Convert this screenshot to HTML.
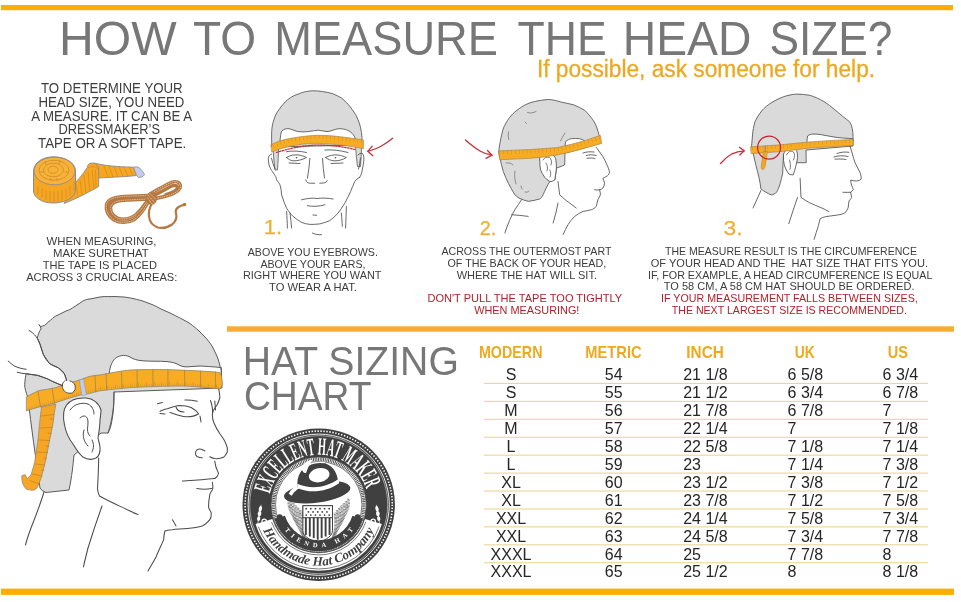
<!DOCTYPE html>
<html><head><meta charset="utf-8"><title>How to measure the head size</title>
<style>
html,body{margin:0;padding:0;background:#fff;}
body{width:961px;height:602px;overflow:hidden;}
svg{display:block;}
svg{font-family:'Liberation Sans', Arial, sans-serif;}
</style></head><body>
<svg width="961" height="602" viewBox="0 0 961 602">
<rect x="0" y="0" width="961" height="602" fill="#fff"/>
<rect x="1" y="5" width="952" height="5.2" fill="#FAAF05"/>
<rect x="227" y="326.3" width="727" height="5.4" fill="#F6AD31"/>
<rect x="1" y="588.6" width="953" height="6.3" fill="#FAAF05"/>
<g id="bighead" stroke-linejoin="round" stroke-linecap="round">
 <!-- hair -->
 <path fill="#DADADA" stroke="#5a5a5a" stroke-width="1" d="M37.4,338 C38,334 39.5,331 41.1,329 L40.4,326.7 C42,326 43.5,325.8 44.8,325.2 C47,323 49,321.5 50.8,320 C53,318 55,316 58,315 L66,311 C70,310 72,308 74,307 L80,303 C84,300 87,299 90,299 L100,297 C106,296 110,297 114,296.5 L124,297 C132,298 137,299.5 142,300.8 L152,304.5 C156,306 158,307.5 161,309 L170,313 C176,316 179,317.5 182,319 L190,323.5 C194,326.5 196,328.5 198,330 L204,336 C208,340 210,343 212,346 L216,354 C218,358 219,362 220,366 L221,372 L222,388 L114,392 C114,400 114,410 112,420 C111,426 110,430 108,433 L101,433 L74,455 C73,465 72,476 69,490 L46,492.5 C43,491 41,490 40,488 C36,460 31,425 28,398 C26,392 24.5,388 24.7,384.3 C25,380 25.5,376 26.2,373.8 L37.4,375.3 L47.8,379 L52.3,381.3 L62.8,385.8 L66.5,379.8 L64.3,373.8 L58.3,367.8 L49.3,363.3 L43.3,354.4 L40.4,345.4 Z"/>
 <!-- forehead patch -->
 <path fill="#fff" stroke="#5a5a5a" stroke-width="1" d="M109,376 C109.5,368 111.5,362 115,358.5 C119,355.5 124,354.5 129,356.5 C133,359 137,360.5 143,360.8 C151,361.5 159,361 166,361.5 C172,362 176,363 180,365.5 C184,367.5 188,366.8 192,366.5 L200,366 C206,366.3 213,366.8 221,367.5 L221.5,376 Z"/>
 <path fill="none" stroke="#5a5a5a" stroke-width="1" d="M221,367.5 C221.3,369.5 221.5,371 221.5,372.5"/>
 <!-- sideburn shading line -->
 <path fill="none" stroke="#5a5a5a" stroke-width="1" d="M114,392 C114,405 113,418 108,433"/>
 <!-- face -->
 <g fill="none" stroke="#4a4a4a" stroke-width="1.05">
  <path d="M218.5,388 C219.5,393 220,397 219.8,398 C219,401 218,403 217,405 C214,409 212,412 212.3,415 C212.5,419 213,421 214,423 C216,428 218,431 220,434 C223,438 225,441 226,444 C227.5,447 228,449 227.3,452 C226,455 225,456 223.5,457.3 C220,458.8 217,458.8 214.8,458.6 C212,458.2 211,457.6 209.8,456.8"/>
  <path d="M204.8,451 C202,449 199,448.5 196.8,450 C195,452 195,455 197,456.5 C199,457.5 201,457.8 202.3,457.8"/>
  <path d="M214.8,461 C215,463 215.5,465 216,467.3 C217,470 218,472 218.5,473.5 C218,476 216.5,477.5 214.8,478.5"/>
  <path d="M182.4,481 C190,480.5 200,480 214.8,478.5"/>
  <path d="M196.8,488.5 C202,489.5 207,489.5 211.5,488.5"/>
  <path d="M212.3,482.3 C213,485 213,488 212.3,490 C211,492 210,493 209.8,494.7 C209,499 208.5,503 208.6,507.2 C209,509 210,510.5 211,512.2 C211.5,515 211,518 209.8,519.7 C207,523 205,525 202.3,526 C197,527.5 192,528 187.4,528.4 C181,529 176,529.3 172.4,529.7 C169,530 166,530.5 164.9,531 C164,534 163.8,537 163.7,539.6 C161,546 158,552 156,557 C153,563 150,567 148,571"/>
  <path d="M172.4,519.7 C174,522 175,524 176,526"/>
  <path d="M160,411.2 C163,410 165,409 167.4,408.7 C172,407 176,405.8 179.9,405.5 C184,405.5 188,406.2 191.1,407.5 C194,409 196.5,411 198.6,413.7 C195,416 190,417 186,416.8 C181,416.5 176,414.5 170,412.4"/>
  <path d="M176,407 C177,410 180,412 184,412"/>
  <path d="M184.9,400 C189,399.8 193,400.3 197.3,401.2"/>
  <path d="M157.4,403.7 L162.4,402.5"/>
  <path d="M160,413.5 L165,414"/>
  <path d="M210.5,400.5 C212,405 213,410 212.5,414 M214.8,401 L215.5,410"/>
  <path d="M200,416 L201,422"/>
  <!-- jaw & neck -->
  <path d="M98.7,458 C98.5,470 98,480 97.5,489 C98,493 99,495 99.5,496 C110,502 122,507 130,511 C134,513 136,514 138,514.5"/>
  <path d="M102,506 C97,520 92,535 88,548 C86,556 84.5,562 83.4,567"/>
  <path d="M44,492 C40,505 35,518 31,528 C28,536 26.5,541 25.5,545"/>
 </g>
 <!-- ear -->
 <path fill="#fff" stroke="#4a4a4a" stroke-width="1.05" d="M101,410 C99,403 93,398.5 86,398 C78,397.5 71,399 66.5,405 C63,410 63,418 64.5,425 C66,433 69,439 73,444 C76,449 79,454 83,457 C87,459.5 92,460 96,458 C99,456 100.5,452 100,447 C99.5,443 98.5,441 98,438 C99,432 100,425 100,420 C100.5,416 101,413 101,410 Z"/>
 <path fill="none" stroke="#4a4a4a" stroke-width="1" d="M70,410 C74,404 82,402 88,404 C92,406 94,410 94,414 M80,418 C84,414 88,416 88,422 C88,428 86,432 90,436 M84,430 C82,436 84,442 88,446 M92,440 C94,444 94,448 92,452"/>
 <!-- tape band -->
 <path fill="#F7AC24" stroke="#8E8466" stroke-width="0.8" d="M26.7,396.7 C33,393 37,391.5 40,390.4 C46,389.5 51,388.5 55,387.9 C63,385 72,382 80,380 C84,378.5 87,377 90,376.3 C93.5,375.6 97,375.2 100,375 C110,373 120,371 130,370 C150,369.3 170,369.5 185,370.3 C200,371 212,371.5 220,372.6 C221.5,375 222.3,380 222.3,384 C222,386 221,388 220,389 C210,388 197,386.5 185,386 C165,386 145,386.8 130,387.6 C118,388.8 108,389.8 100,390.8 C96,391.5 93,392.5 90,393.3 C86,394 83,394.5 80,395 C71,397.5 62,400.5 55,402.9 C50,404.5 45,405.5 40,406.7 C35,408 30.5,409.5 26.7,410.8 Z"/>
 <path fill="none" stroke="#9A8050" stroke-width="0.7" d="M38,391 L40.5,407 M52,388.3 L54.5,403.3 M95,375.6 L95.8,392 M106,373.8 L106.7,389.9 M121.5,371.6 L122,388.4 M137,369.8 L137.3,387.2 M152.9,369.3 L153,386.4 M167.9,369.4 L168,386.1 M184.6,370.2 L184.7,386 M200.5,371 L200.6,387.2 M215.5,372 L215.6,388.5"/>
 <path fill="none" stroke="#C0862A" stroke-linecap="butt" stroke-width="1.8" stroke-dasharray="0.4 1.7" d="M28,408.8 C35,406.5 45,403.8 55,401 C62,398.8 71,395.8 80,393.2 C86,392 93,390.5 100,389 C108,388 118,386.9 130,385.8 C145,385 165,384.3 185,384.3 C197,384.8 210,386.2 219.5,387.2"/>
 <path fill="none" stroke="#C0862A" stroke-linecap="butt" stroke-width="3.2" stroke-dasharray="0.45 7.3" d="M100,387.8 C108,387 118,385.9 130,384.8 C145,384 165,383.3 185,383.3 C197,383.8 210,385.2 219.5,386.2"/>
 <path fill="#C4CCE6" stroke="#8D97B5" stroke-width="0.6" d="M79.4,380.2 L83.8,379 C84.3,384 85.5,390 86.6,394.6 L82,395.6 C81,390.5 80.2,385.5 79.4,380.2 Z"/>
 <!-- hanging tape -->
 <path fill="#F6A623" stroke="#9a8a6a" stroke-width="0.8" d="M41.5,407 L55.9,404.1 C54.5,410 53.7,417 53,423.2 C51.7,430 50.5,436 49.2,442.3 C48,448.7 46.7,455 45.4,461.4 C44,466.5 42.8,471.6 41.5,476.7 C40,481 38.5,485 36.8,488.2 C35,490 33,490.5 31,490.1 C29,489.8 27.5,489.5 26.2,489.1 C24.5,487 23,485 22.4,482.5 C21.9,480 21.7,477.5 21.8,475.8 C23,475 24.2,474.8 25.3,474.8 C26,476.5 26.6,477.8 27.2,478.6 C28.5,477.5 29.8,476 31,474.8 C32.5,470 33.8,465.7 34.8,461.4 C35.8,455 36.8,448.6 37.7,442.3 C38.3,436 39,429.6 39.6,423.2 C40.2,418 40.8,412.5 41.5,407 Z"/>
 <path fill="none" stroke="#B67E22" stroke-width="0.6" d="M40.5,416 L54.3,414.5 M39.5,428 L52.3,427.5 M38.3,440 L49.7,440.5 M36.8,452 L47.5,452.5 M35.2,464 L44.8,465 M32.5,474 L42,476 M30,480.5 L39.5,484 M50,419 L53.5,419 M48,433 L51.5,433.5 M46,446 L49,446.5 M44,458 L46.5,458.5 M42,470 L44,470.5"/>
 <!-- thumb -->
 <path fill="#fff" stroke="#4a4a4a" stroke-width="1" d="M64.5,381 C62,383 61.5,387 63.5,390 C65.5,393 69.5,394 72.5,392.7 C75.2,391 75.8,388 75,385.5 C74.5,383 72.5,381.5 70,381"/>
 <!-- hand -->
 <g fill="none" stroke="#4a4a4a" stroke-width="1">
  <path d="M29.1,330.5 C32,332 34,334 35.9,336.4 C38,339 39.5,342 40.4,345.4 C41.5,349 42.5,352 43.3,354.4 C45,358 47,361 49.3,363.3 C52,365.5 55,366.5 58.3,367.8 C61,369.5 63,371.5 64.3,373.8 C65.5,376 66,378 66.5,380.5"/>
  <path d="M8.2,361.1 C10.5,363 12.5,365 15,366.3 C19,368 23,369 26.2,369.3"/>
  <path d="M17.2,372.3 C20,373 23,373.5 26.2,373.8 C30,374.3 34,374.8 37.4,375.3 C41,376.5 44.5,377.5 47.8,379 C49.5,380 51,380.7 52.3,381.3 C56,383 59.5,384.5 62.8,385.8"/>
  <path d="M40.4,326.7 L39,324.5"/>
 </g>
</g>
<g id="head1" stroke-linejoin="round" stroke-linecap="round">
 <path fill="#DADADA" stroke="#5a5a5a" stroke-width="0.9" d="M271.7,142 C271.5,136 271.6,132 271.9,128.7 C272.4,125 273,122 273.8,120 C275,116 277,112 278.9,109.8 C281.5,106 284.5,102.5 287.7,99.6 C291,97 295,95 299.3,93.7 C303,92 307.5,91 312.4,90.8 C316,90.7 319.5,91 322.6,91.6 C326,92 329.5,92.8 332.8,93.7 C336,95 339,96.5 341.6,98.1 C345,101 348,104 350.3,106.9 C353,110.5 355.3,113.8 356.9,117 C358.5,120.5 359.7,124 360.5,127.2 C361.3,131 361.8,134.5 362,137.4 L362,145 L271.7,147 Z"/>
 <path fill="#fff" stroke="#5a5a5a" stroke-width="0.9" d="M280,142 C280.2,137 280.8,133 281.9,130.9 C284,129 286.5,128.4 289.1,128.7 C292.5,129.4 295,131 297.9,131.6 C301,132 305,131.9 308.1,131.6 C312,131.2 315,130.3 318.3,130.2 C321.5,130.3 324,131.5 327,131.6 C331,131.5 335,128.9 338.7,128.7 C342,128.6 345,129.2 347.4,130.2 C350,131.3 352,133 353.2,134.5 C354.4,136 355,137.5 355.4,139.5 L355.4,142 Z"/>
 <!-- sideburns -->
 <path fill="#DADADA" stroke="#5a5a5a" stroke-width="0.8" d="M273,148 L278.5,147.5 C278.5,155 278,162 277.5,170 L275,170 C274,163 273.5,155 273,148 Z"/>
 <path fill="#DADADA" stroke="#5a5a5a" stroke-width="0.8" d="M355.5,146 L361.5,146.5 C361.5,153 361,160 360.5,166.6 L357.5,166.6 C356.5,160 356,153 355.5,146 Z"/>
 <g fill="none" stroke="#4d4d4d" stroke-width="0.85">
  <path d="M271.6,154.1 C269.5,155 268.3,156.5 268.3,158.3 C268.3,161 268.5,163 269.1,165 C270,168 271,170 272.5,171.6 C273.5,173.5 274.7,175 275.8,176.6 C276.3,178 276.5,179 276.6,179.9 C278,181.5 279.2,183.2 280,184.9 C281,188 281.4,191.5 281.6,194.9 C283,199.5 284.7,204 286.6,208.2 C288.7,211.5 291,214.3 293.2,216.5 C296,218.8 298.8,220.8 301.5,222.3 C304.5,223.5 307,224.1 309.9,224.4 C313,224.5 316.5,224.3 319.8,223.9 C323.5,223 326.8,221.8 329.8,220.6 C332.5,218.5 335.5,216 338.1,213.1 C340.5,210 342.7,206.5 344.8,203.2 C346.8,199.5 348.8,195.5 350.6,191.5 C352,188 353.3,184.7 354.7,181.6 C356,179.5 357.7,178.3 359.7,177.4"/>
  <path d="M359.7,177.4 C361,175 362,172.5 362.2,170 C363,166.5 363.7,163 363.9,160 C364,157 363.5,154.5 362.2,153.3 C361,153 359.5,153.6 358,155"/>
  <path d="M271.5,158 C272.5,162 273.5,166 275,169 M360.5,158 C360,162 359.5,166 358.5,169"/>
  <path d="M286.6,211.5 C287,217 287.2,222 287.4,228.1 M290,213 C290.6,218 291.2,223 291.6,228.1 M346.4,206.5 C346.2,213 345.9,220 345.6,228.1 M341.4,213.1 C341.8,218 342.1,222 342.3,226.4"/>
  <path d="M312.4,233.1 C315,234.5 318.5,235 321.5,234.7"/>
  <path d="M305.7,179.9 C306,182.2 308,183.3 310.5,183.2 L314.8,183.2 M319.8,183.2 L323,183 C325.5,182.8 327,182 327.3,180.7"/>
  <path d="M309.9,158.3 C309.5,165 308.5,172 307.4,178.2 M322.5,158.5 C323,165 323.5,172 324.5,178"/>
  <path d="M301.5,199.8 C307,198.3 313,197.8 317,198.5 C322,197.8 328,198 333.1,199"/>
  <path d="M307.4,205.7 C313,206.8 319,206.5 324.8,204.8"/>
  <path d="M286.6,157.5 C290,155 295,154.5 299,155 C302,155.5 304.5,156.5 306.5,157.5 C302,160 297,161 293,160.8 C290.5,160.5 288.5,159.3 286.6,157.5 Z"/>
  <path d="M325.6,157.5 C329,155.5 334,154.5 338,155 C341.5,155.5 344,156.5 346.4,157.5 C342.5,160 338,161 334,160.8 C330.5,160.5 328,159.3 325.6,157.5 Z"/>
  <path d="M286.6,151.6 C292,150.6 300,151 306.5,152.5 M324.8,150 C332,149.5 340,150.3 348,152.5"/>
  <path d="M289,163 L300,163.5 M331,163.5 L343,163"/>
  <path d="M313,215 L316.5,215.3"/>
 </g>
 <circle cx="296.5" cy="157.8" r="0.8" fill="#4d4d4d"/>
 <circle cx="335.5" cy="157.8" r="0.8" fill="#4d4d4d"/>
 <!-- tape -->
 <path fill="#F7AC24" stroke="#A88A4E" stroke-width="0.7" d="M271.3,144.5 C277,141.5 283,139.8 289.1,138.6 C298,137 306,135.9 316,135.3 C325,135.3 333,135.8 340.1,136.7 C348,137.8 356,138.7 363.4,139.9 L363.4,148.5 C356,147.3 348,146 340.1,145 C332,144.2 324,143.4 316,143.3 C306,143.5 298,144.5 289.1,146.4 C283,147.8 277,149.8 272,151.9 Z"/>
 <path fill="none" stroke="#D08B20" stroke-linecap="butt" stroke-width="3.6" stroke-dasharray="0.5 3.4" d="M273,145.8 C279,143.2 284,141.5 289.5,140.4 C298,138.8 306,137.7 316,137.1 C325,137.1 333,137.6 340,138.5 C348,139.6 355,140.5 362,141.7"/>
 <path fill="none" stroke="#C8283A" stroke-width="1.2" stroke-dasharray="1.7 1.3" d="M276.4,152.5 C288,148.8 300,146 316,145 C330,145 345,146.8 355.4,149.6"/>
 <!-- arrow -->
 <g fill="none" stroke="#C4303A" stroke-width="1.3" stroke-linecap="round">
  <path d="M392.6,138.2 C388,142 384,144.5 381,146.2 C377,148.4 372,150 367.8,151.3"/>
  <path d="M372.2,146.2 L367.8,151.3 L372.9,155.7"/>
 </g>
</g>

<g id="head2" stroke-linejoin="round" stroke-linecap="round">
 <path fill="#DADADA" stroke="#5a5a5a" stroke-width="0.9" d="M498.8,152 C499.2,147 500,142.5 500.8,138.7 C501.6,135 502.5,131 503.5,127.9 C505,124.5 507,121 508.9,118.4 C511.5,115 514,112.5 517,110.3 C520,108 522.5,106.3 525.2,104.9 C528,103.3 531.5,102.2 534.6,101.5 C539,100.6 543.5,99.7 548.2,99.5 C553,99.6 557.5,101 561.7,102.2 C566,103.2 570,103.8 573.9,104.9 C578,106.5 581.5,108.5 584.7,110.3 C588,113.5 590.8,116.7 592.8,119.8 C594.8,122.7 596,125.3 596.9,127.9 C597.8,130.5 598.5,132.5 598.9,134.6 L600,140 L584,148 L565,153 L564.7,165 L556.4,168.2 C556,172 555.5,176 554.8,179.8 L549.8,181.5 C547,186 545,190.5 543.1,194.8 C542,197 541,198.3 539.8,198.9 C536,200 532,201 528.2,201.4 C525,200.6 522,199.5 519,198.1 C517.5,197 516,196 514.9,194.8 C512.5,191 510.3,187 508.3,183.2 C506.5,179.5 504.8,175.5 503.3,171.5 C502,167 500.8,162.5 500,158.3 Z"/>
 <path fill="#fff" stroke="#5a5a5a" stroke-width="0.9" d="M565,145 C565.3,143.5 565.5,142.3 565.8,141.4 C567.5,140 569.3,139.2 571.2,138.7 C574,138.4 577,138.4 579.3,138.7 C581.5,139.2 583.3,139.8 584.7,140.7 L584.7,146 Z"/>
 <g fill="none" stroke="#6a6a6a" stroke-width="0.7">
  <path d="M527.5,112.5 C530,113.5 533,113 536,111.5 M525,122 L526.5,123.5 M508.5,132 C508,135 508.2,137 508.8,139.5 M565,133 C563,136 561.5,139 560.5,141"/>
  <path d="M506,163 C509,162.5 511,163 513,165 M515,171 C514,176 515,180 516,184 M521,186 L522,189 M525,192 C527,192.5 528,192 529,191"/>
 </g>
 <g fill="none" stroke="#4d4d4d" stroke-width="0.85">
  <path d="M596.3,147.5 C598.5,150.5 600.8,153.5 602.9,156.6 C604.5,159.5 605.8,162.2 607,164.9 C608.2,167.5 609.2,170 609.5,172.4 C609,174.5 607.8,175.8 606.2,176.5 C605,177.2 604,177.8 602.9,178.2 C603.5,180 604.3,181.7 604.6,183.2 C604.3,185 603.8,186.8 602.9,188.1 C601.8,189 600.7,189.5 599.6,189.8 C600,191.5 600.5,193.2 600.4,194.8 C599.7,196.5 598.8,198.2 597.9,199.8 C597.2,202 596.8,204.3 596.3,206.4 C594.8,208 593,209.2 591.3,209.7 C588.5,210.5 585.7,211 583,211.4 C580,212.7 577.2,214.5 574.7,216.4 C572,219 569.8,221.8 568,224.7 C566.2,228 564.5,231.3 563.1,234.6"/>
  <path d="M558,181.5 C558.5,186 559.2,190.5 559.7,194.8 C563,198 566,200.5 569,202.5 C571.5,204.5 574,206.5 576.3,208.1"/>
  <path d="M521.5,199.8 C519.5,203 517,206.5 514.9,209.7 C513,213 511.3,216.3 509.9,219.7 C508,224 506.3,228.5 504.9,233"/>
  <path d="M558,203.1 C556.8,210 555,216.5 553.1,223"/>
  <path d="M511.6,214.7 C517,215 523,215.7 528.2,216.4"/>
  <path d="M586.3,155.5 C589.5,154.5 593,154.6 596.3,155.5 M587,158.3 C590,157.8 593,158 595,158.5 M583,153 C586,151.8 590,151.5 594,152"/>
  <path d="M594.6,189.8 C596.5,190.2 598.5,190 599.6,189.8"/>
 </g>
 <path fill="#fff" stroke="#4d4d4d" stroke-width="0.85" d="M539.8,156.6 C541.2,155 543,153.8 544.8,153.3 C547,153 549.4,153.2 551.4,154.1 C553.4,155.2 554.8,156.6 555.6,158.3 C556.3,161.5 556.5,164.8 556.4,168.2 C556,172 555.5,176 554.8,179.8 C553.3,181 551.5,181.6 549.8,181.5 C547.8,180.5 546.2,179 544.8,177.4 C543,175 541.6,172.5 540.6,169.9 C540,167 539.7,164 539.8,161.6 Z"/>
 <path fill="none" stroke="#4d4d4d" stroke-width="0.75" d="M543,160 C544,157.5 547,156.5 549.5,157.5 C551.5,159 552,162 551,165 M546,163 C547.5,165 548,168 547,171 M550,170 C551,172.5 551,175 550,177"/>
 <!-- tape -->
 <path fill="#F7AC24" stroke="#A88A4E" stroke-width="0.7" d="M498.8,150.9 C509,150.3 520,149.9 530.6,149.5 C540,148.8 549,148.3 557.6,147.5 C567,145.5 576,143.2 584.7,140.7 C590,139 595,137 600.3,135.3 L601.6,143.4 C596,145 590.5,146.6 584.7,148.2 C576,150.8 567,153 557.6,154.9 C549,156.5 540,157.5 530.6,158.3 C520.5,158.8 510.5,159.2 500.1,159.7 Z"/>
 <path fill="none" stroke="#D08B20" stroke-linecap="butt" stroke-width="3.8" stroke-dasharray="0.5 3.4" d="M499.5,152.8 C509,152.3 520,151.9 530.6,151.5 C540,150.8 549,150.3 557.6,149.5 C567,147.5 576,145.2 584.7,142.7 C590,141 595,139.2 600.3,137.5"/>
 <g fill="none" stroke="#C4303A" stroke-width="1.3" stroke-linecap="round">
  <path d="M465.5,140 C470,144 475,148 480,151 C484,153.3 488,154.7 492,155.2"/>
  <path d="M487.5,150.5 L492,155.2 L486,158.3"/>
 </g>
</g>

<g id="head3" stroke-linejoin="round" stroke-linecap="round">
 <path fill="#DADADA" stroke="#5a5a5a" stroke-width="0.9" d="M751.5,147 C752,141.5 752.4,136 752.9,131.3 C753.5,127.5 754.2,124.5 754.9,121.8 C756.8,117.8 759,114.2 761.6,111 C764.5,107.7 767.8,105 771.1,102.9 C775,100.5 779,98.4 783.3,96.8 C787.8,95.3 792.3,94.3 796.8,94.1 C801.3,94.1 806,94.6 810.3,95.4 C815,96.9 819.6,99.1 823.9,101.5 C827.8,104 831.4,106.8 834.7,109.6 C837.5,112 840.2,114.3 842.8,116.4 C845.2,118.3 847.6,120 849.6,121.8 C851,124 851.8,126.4 852.3,128.6 C852.8,131.3 853,134 853,136.7 L853,146 L806,150 L806.2,162.7 L797,162.7 L783.6,154 C783,160 782.9,167 782.7,173.1 C781.9,177 781,180.3 780.1,183.6 C779,187 778,190 776.6,192.3 C775,193.7 773.2,194.6 771.4,194.9 C769.5,194.3 767.8,193.4 766.1,192.3 C764.2,191.3 762.4,190 760.9,188.8 C760.4,185 759.9,181.6 759.2,178.4 C758,173.5 756.8,168.8 755.7,164.4 C754.8,160.5 754,156.6 753.1,153.1 Z"/>
 <path fill="#fff" stroke="#5a5a5a" stroke-width="0.9" d="M807,143 C807,141.5 807,139.5 807.6,136 C809,134.8 811,134.2 813,134 C815.8,134 818.5,134.3 821.2,134.7 C825,135.3 828.5,136 832,136.7 C835.5,137.3 839,137.7 842.8,138 C846.5,138.3 850,138.5 853,138.7 L853,141 Z"/>
 <g fill="none" stroke="#4d4d4d" stroke-width="0.85">
  <path d="M849.8,145.2 C850.7,148 851.5,151 852.4,154 C853.2,157 854.1,160 855.1,162.7 C856.8,166.3 858.6,169.7 860.3,173.1 C861,175.2 861.3,177.2 861.2,179.2 C859.8,180.3 858.3,180.8 856.8,181 C854.8,181 852.7,180.6 850.7,180.1 C850.8,182 851.1,183.7 851.6,185.3 C852.2,186.7 852.9,188.2 853.3,189.7 C852.5,190.7 851.6,191.5 850.7,192.3 C850.9,194 851.3,195.8 851.6,197.5 C850.8,198.8 849.9,199.9 849,201 C848.6,203.3 848.3,205.6 848.1,208 C847.3,210 846,211.8 844.6,213.2 C842.3,214.2 840,214.7 837.6,215 C833.5,215.6 829.4,216 825.4,216.7 C823.5,217.2 821.8,217.8 820.2,218.5 C819.5,220.8 819,223 818.5,225.4 C817,230 815.5,234.8 814.1,239.4"/>
  <path d="M800.1,178.4 C800.4,185 800.7,191 801,197.5 C803.5,199.3 806.5,201 809.7,202.8 C813.7,204.7 817.8,206.4 821.9,208 C824.3,209.2 826.6,210.3 828.9,211.5"/>
  <path d="M760.9,190.6 C758.3,196.3 755.7,202 753.1,208"/>
  <path d="M797.5,197.5 C794.5,206 791.6,214.8 788.8,223.7"/>
  <path d="M834,157 C838,155.5 843,155.3 848,156.5 M835,159.2 C839,158.8 843,159 846,159.5 M837,153.5 C841,152 845,151.7 849,152.3"/>
  <path d="M842.9,192.3 C846,192.4 848.5,192.3 850.7,192.3"/>
 </g>
 <path fill="#fff" stroke="#4d4d4d" stroke-width="0.85" d="M783.6,154 C784.5,151.7 785.7,150 787.1,148.7 C788.8,147.6 790.5,147 792.3,147 C794.2,147.8 795.8,149 796.7,150.5 C797.3,152.8 797.6,155 797.5,157.4 C797.2,160.5 796.6,163.4 795.8,166.2 C795.1,169.2 794.2,172 793.2,174.9 C791.7,174.9 790.2,174.6 788.8,174 C787.4,172 786.2,170 785.3,167.9 C784.5,165.6 783.9,163.3 783.6,160.9 Z"/>
 <path fill="none" stroke="#4d4d4d" stroke-width="0.75" d="M786.5,155 C788,151.5 791,150.5 793.5,152 C795,154 794.8,157 793.5,160 M789.5,160 C790.5,163 790.8,166 790,169.5"/>
 <!-- tape -->
 <path fill="#F7AC24" stroke="#A88A4E" stroke-width="0.7" d="M750.8,146.8 C760.5,146.1 770.5,145.5 780.6,144.8 C789.5,143.9 798.5,142.9 807.6,142.1 C823,140.9 838,140 853,139.4 L853,145.5 C838,146.2 823,147 807.6,148.2 C798.5,149.3 789.5,150.5 780.6,151.6 C770.5,152.3 761,152.9 751.5,153.6 Z"/>
 <path fill="none" stroke="#D08B20" stroke-linecap="butt" stroke-width="3.4" stroke-dasharray="0.5 3.4" d="M752,148.4 C761,147.8 770.5,147.2 780.6,146.5 C789.5,145.6 798.5,144.6 807.6,143.8 C823,142.6 838,141.7 852.5,141.1"/>
 <path fill="#F6A623" stroke="#C98B25" stroke-width="0.7" d="M763.5,151.5 L767.5,151.3 C766.8,156 766,161 765,166.5 C764.5,168.5 763.5,169.5 762.5,169.5 C761.5,169 761,168 761.2,166.5 C762,161.5 762.8,156.5 763.5,151.5 Z"/>
 <path fill="none" stroke="#8a8a8a" stroke-width="1" d="M765.3,146 L765.3,152"/>
 <circle cx="769.1" cy="147.6" r="11.5" fill="none" stroke="#C8242E" stroke-width="1.2"/>
 <g fill="none" stroke="#C4303A" stroke-width="1.3" stroke-linecap="round">
  <path d="M720.5,163.5 C724,159.5 728,156 732,153.8 C736,151.8 740,151 744.2,150.8"/>
  <path d="M739.5,147.3 L744.2,150.8 L739.8,155"/>
 </g>
</g>
<g id="logo" transform="translate(318.7,504.7)">
<defs><path id="lgtop" d="M-49.24,-8.68 A50.00,50.00 0 0 1 49.24,-8.68"/><path id="lgbot" d="M-57.32,20.86 A61.00,61.00 0 0 0 57.32,20.86"/><path id="lgin" d="M-41.15,11.03 A42.60,42.60 0 0 0 41.15,11.03"/></defs>
<circle r="76.2" fill="#404040"/>
<circle r="73.6" fill="none" stroke="#fff" stroke-width="1.6" stroke-dasharray="1.4 1.6"/>
<circle r="70.6" fill="none" stroke="#fff" stroke-width="0.9"/>
<circle r="69" fill="none" stroke="#fff" stroke-width="0.5"/>
<path fill="#fff" d="M63.12,19.30 A66.00,66.00 0 0 1 -63.12,19.30 L-46.38,14.18 A48.50,48.50 0 0 0 46.38,14.18 Z"/>
<path fill="none" stroke="#404040" stroke-width="0.7" d="M60.42,21.99 A64.30,64.30 0 0 1 -60.42,21.99"/>
<path fill="none" stroke="#404040" stroke-width="0.7" d="M47.17,17.17 A50.20,50.20 0 0 1 -47.17,17.17"/>
<circle cx="54.51" cy="16.67" r="2.2" fill="none" stroke="#fff" stroke-width="1.2"/>
<circle cx="-54.51" cy="16.67" r="2.2" fill="none" stroke="#fff" stroke-width="1.2"/>
<circle r="47.6" fill="#fff"/>
<circle r="47.6" fill="none" stroke="#404040" stroke-width="0.8"/>
<circle r="45.3" fill="none" stroke="#404040" stroke-width="3.2" stroke-dasharray="0.9 0.8"/>
<circle r="43.2" fill="none" stroke="#404040" stroke-width="0.7"/>
<path fill="none" stroke="#7a7a7a" stroke-width="2.4" stroke-dasharray="0.8 0.6" d="M-13.0,36.0 C-16.0,30.0 -18.0,20.0 -16.0,8.0 M-13.0,36.0 C-17.5,27.0 -20.5,17.0 -18.2,5.6 M-13.0,36.0 C-19.0,24.0 -23.0,14.0 -20.4,3.2 M-13.0,36.0 C-20.5,21.0 -25.5,11.0 -22.6,0.8 M-13.0,36.0 C-22.0,18.0 -28.0,8.0 -24.8,-1.6 M-13.0,36.0 C-23.5,15.0 -30.5,5.0 -27.0,-4.0 M-13.0,36.0 C-25.0,12.0 -33.0,2.0 -29.2,-6.4 M13.0,36.0 C16.0,30.0 18.0,20.0 16.0,8.0 M13.0,36.0 C17.5,27.0 20.5,17.0 18.2,5.6 M13.0,36.0 C19.0,24.0 23.0,14.0 20.4,3.2 M13.0,36.0 C20.5,21.0 25.5,11.0 22.6,0.8 M13.0,36.0 C22.0,18.0 28.0,8.0 24.8,-1.6 M13.0,36.0 C23.5,15.0 30.5,5.0 27.0,-4.0 M13.0,36.0 C25.0,12.0 33.0,2.0 29.2,-6.4"/>
<path fill="#fff" stroke="#404040" stroke-width="1" d="M-15.8,1 L13.8,1 L13.8,26 C13.8,31 8,35 -1,38 C-10,35 -15.8,31 -15.8,26 Z"/>
<rect x="-15.8" y="1" width="29.6" height="12" fill="#fff" stroke="#404040" stroke-width="1"/>
<circle cx="-12.5" cy="4.0" r="0.9" fill="#404040"/><circle cx="-7.9" cy="4.0" r="0.9" fill="#404040"/><circle cx="-3.3" cy="4.0" r="0.9" fill="#404040"/><circle cx="1.3" cy="4.0" r="0.9" fill="#404040"/><circle cx="5.9" cy="4.0" r="0.9" fill="#404040"/><circle cx="10.5" cy="4.0" r="0.9" fill="#404040"/><circle cx="-10.2" cy="7.2" r="0.9" fill="#404040"/><circle cx="-5.6" cy="7.2" r="0.9" fill="#404040"/><circle cx="-1.0" cy="7.2" r="0.9" fill="#404040"/><circle cx="3.6" cy="7.2" r="0.9" fill="#404040"/><circle cx="8.2" cy="7.2" r="0.9" fill="#404040"/><circle cx="-12.5" cy="10.4" r="0.9" fill="#404040"/><circle cx="-7.9" cy="10.4" r="0.9" fill="#404040"/><circle cx="-3.3" cy="10.4" r="0.9" fill="#404040"/><circle cx="1.3" cy="10.4" r="0.9" fill="#404040"/><circle cx="5.9" cy="10.4" r="0.9" fill="#404040"/><circle cx="10.5" cy="10.4" r="0.9" fill="#404040"/>
<rect x="-13.80" y="13" width="1.9" height="17.2" fill="#404040"/><rect x="-9.85" y="13" width="1.9" height="18.8" fill="#404040"/><rect x="-5.90" y="13" width="1.9" height="20.4" fill="#404040"/><rect x="-1.95" y="13" width="1.9" height="22.0" fill="#404040"/><rect x="2.00" y="13" width="1.9" height="20.4" fill="#404040"/><rect x="5.95" y="13" width="1.9" height="18.8" fill="#404040"/><rect x="9.90" y="13" width="1.9" height="17.2" fill="#404040"/>
<ellipse cx="-1.5" cy="-12.5" rx="33.5" ry="10.5" transform="rotate(-8 -1.5 -12.5)" fill="#404040"/>
<path fill="#fff" d="M-30,-11 C-26,-20 -12,-25 6,-26 C-8,-23 -22,-18 -27,-9 Z"/>
<path fill="#404040" d="M-21,-17 C-23,-28 -17,-39 -5,-42 C7,-44 17,-38 19,-26 L20,-21 C8,-14 -8,-12 -21,-17 Z"/>
<path fill="#fff" d="M-21.5,-21 C-8,-15 8,-17 20,-26 L20.5,-21.5 C8,-13 -8,-11 -21,-16.5 Z"/>
<ellipse cx="0.5" cy="-29.5" rx="10.5" ry="7" transform="rotate(-12 0.5 -29.5)" fill="#fff"/><path fill="#fff" d="M-17.5,-37 C-15,-42 -11,-44.5 -6,-45 C-9,-41 -11,-37 -12.5,-32 C-14.5,-31 -16.5,-33 -17.5,-37 Z"/>
<path fill="none" stroke="#fff" stroke-width="1.2" d="M-14,-36 C-10,-41 -2,-43 6,-42"/>
<path fill="#404040" d="M44.22,14.37 A46.50,46.50 0 0 1 -44.22,14.37 L-33.76,10.97 A35.50,35.50 0 0 0 33.76,10.97 Z"/>
<circle cx="38.99" cy="12.67" r="3" fill="#404040"/>
<circle cx="-38.99" cy="12.67" r="3" fill="#404040"/>
<text font-family="'Liberation Serif', serif" font-weight="bold" font-size="25" fill="#fff"><textPath href="#lgtop" startOffset="2.4" textLength="130" lengthAdjust="spacingAndGlyphs">EXCELLENT HAT MAKER</textPath></text>
<text font-family="'Liberation Serif', serif" font-weight="bold" font-style="italic" font-size="13" fill="#404040"><textPath href="#lgbot" startOffset="5" textLength="139" lengthAdjust="spacingAndGlyphs">Handmade Hat Company</textPath></text>
<text font-family="'Liberation Serif', serif" font-weight="bold" font-size="6.5" fill="#fff"><textPath href="#lgin" startOffset="16" textLength="80" lengthAdjust="spacing">TIENDA HAT</textPath></text>
<g fill="#fff" transform="translate(-59.0,8.0) rotate(10)"><ellipse cx="0" cy="-4" rx="1.6" ry="2.8"/><ellipse cx="0" cy="1" rx="1.8" ry="2.8"/><ellipse cx="0" cy="6" rx="1.6" ry="2.4"/><path d="M0,-8 L0,12" stroke="#fff" stroke-width="0.6"/></g>
<g fill="#fff" transform="translate(59.0,8.0) rotate(-10)"><ellipse cx="0" cy="-4" rx="1.6" ry="2.8"/><ellipse cx="0" cy="1" rx="1.8" ry="2.8"/><ellipse cx="0" cy="6" rx="1.6" ry="2.4"/><path d="M0,-8 L0,12" stroke="#fff" stroke-width="0.6"/></g>
</g><g id="taperoll" stroke-linejoin="round">
 <!-- tail strip -->
 <path fill="#F6A623" stroke="#8c8c96" stroke-width="0.9" d="M94,163 C102,165 110,166 118,166.5 C124,166.8 129,167 133.5,167.2 L136.5,175.5 C128,176.5 118,177 108,177.5 C102,177.8 97,178 92,179 Z"/>
 <path fill="none" stroke="#D18B16" stroke-width="0.7" d="M104,166 L108,177 M109,166.3 L113,177.2 M114,166.5 L118,177 M119,166.7 L123,176.8 M124,166.9 L128,176.5 M129,167 L133,176"/>
 <path fill="#C5CCEA" stroke="#8c8c96" stroke-width="0.8" d="M133.5,167.2 C136,166.6 138,166.8 139.5,167.8 C141.5,170 143.5,172.5 144.5,174.5 C143.5,176.5 141,177.5 138.5,177.4 L136.5,175.5 Z"/>
 <!-- fold -->
 <path fill="#F6A623" stroke="#8c8c96" stroke-width="0.9" d="M64,203.5 C76,199 88,192.5 98.7,186.5 L98.7,169 C98,165 95,163 92,163 C89,163 87.5,165 87.2,167.6 C83,174 79,179 74,184 L70,194 Z"/>
 <path fill="none" stroke="#D18B16" stroke-width="0.7" d="M88,168 C91,166 95,166.5 98,168.5 M76,184 L78,197.5 M80,180 L82,195.5 M84,175 L86,193.5 M88,171 L90,191.5 M92,170 L94,189.5 M95.5,170 L96,188"/>
<!-- roll cylinder -->
 <path fill="#F6A623" stroke="#8c8c96" stroke-width="1" d="M33.5,172 C33,165 40,157 53,156.8 C66,156.8 75,163 75.5,170.5 L75.5,190 C75,197 66,203 53,203 C41,203 34,197 33.5,191 Z"/>
 <ellipse cx="54.5" cy="171" rx="20.5" ry="13.8" fill="#F8B23A" stroke="#8c8c96" stroke-width="0.9"/>
 <ellipse cx="54" cy="170.3" rx="15" ry="10" fill="none" stroke="#C98B25" stroke-width="0.8"/>
 <ellipse cx="53.5" cy="170" rx="10" ry="6.8" fill="none" stroke="#C98B25" stroke-width="0.8"/>
 <ellipse cx="53" cy="169.8" rx="5" ry="3.6" fill="none" stroke="#C98B25" stroke-width="0.8"/>
 <path fill="none" stroke="#C98B25" stroke-width="0.7" d="M38,186 L38,194 M42,188.5 L42,197.5 M46,190 L46,200 M50,191 L50,201.5 M54,191.2 L54,202 M58,191 L58,201.5 M62,190 L62,200.5 M66,188.5 L66,198.5 M70,186 L70,196 M74,182 L74,191 M45,161 L46,165 M60,160 L59,164 M40,172 L44,172 M65,172 L69,172 M50,178 L51,181 M57,178 L57,181"/>
</g>
<g id="rope" fill="none" stroke-linecap="round" stroke-linejoin="round">
 <g stroke="#B67841" stroke-width="3.4">
  <path id="rp1" d="M148,195.5 C140,195.8 130,196 121,196.7 C113,197.5 108,199.5 106.5,204 C105.5,210 108,216 114,220 C120,223.5 128,223 134.5,219.5 C140,215.5 144,209.5 147.5,203.5"/>
  <path d="M147,199 C138,199.5 128,199.8 121,200.5 C114.5,201.3 111,203.8 110.5,207.5 C110.5,212.5 113.5,216.5 118.5,218.5 C124,220 130.5,218.5 136,214.5 C140.5,210.5 143.5,206.5 146.5,202"/>
  <path d="M146,196.5 C138,197 129,197.5 121.5,198.2 C115,199 111,201 109,205 C108.5,211 111,215.5 116,218.5"/>
  <path d="M150,194 C157,190 165,185 171,182.5 C176,180.5 180,182 180.5,186 C180.5,190.5 175,193.5 168,195.5 C162,197.2 157,198.3 153,199"/>
  <path d="M152,196.5 C159,193 166,189 171.5,186 C175,184.8 177.5,185.8 177.5,188 C177,190.5 172,192.5 166,194.5"/>
 </g>
 <path stroke="#B67841" stroke-width="2.2" d="M152,203.5 C149.5,207.5 148.5,212 149,216.5 C149.5,221 152.5,225.5 157.8,227.5 C162.5,228.5 167.8,227.5 172,224.5 C175.5,221.5 177,217.5 176.2,214.2 C175.2,211.5 175.5,209 178.5,207 C180.5,205.8 182.5,205 184.7,204.9"/>
 <g stroke="#F1DCC4" stroke-width="0.7" stroke-dasharray="0.8 1.5">
  <path d="M148,195.5 C140,195.8 130,196 121,196.7 C113,197.5 108,199.5 106.5,204 C105.5,210 108,216 114,220 C120,223.5 128,223 134.5,219.5 C140,215.5 144,209.5 147.5,203.5"/>
  <path d="M147,199 C138,199.5 128,199.8 121,200.5 C114.5,201.3 111,203.8 110.5,207.5 C110.5,212.5 113.5,216.5 118.5,218.5 C124,220 130.5,218.5 136,214.5 C140.5,210.5 143.5,206.5 146.5,202"/>
  <path d="M150,194 C157,190 165,185 171,182.5 C176,180.5 180,182 180.5,186 C180.5,190.5 175,193.5 168,195.5 C162,197.2 157,198.3 153,199"/>
 </g>
 <ellipse cx="151.5" cy="198.5" rx="5.5" ry="6.5" fill="#B67841"/>
 <path d="M148,195 L155,203 M150,193.5 L155.5,199 M147.5,198 L153,205" stroke="#F1DCC4" stroke-width="0.7" stroke-dasharray="0.8 1.4"/>
 <circle cx="184.5" cy="204.5" r="1.8" fill="#B67841"/>
</g>

<rect x="484" y="382.90" width="444" height="1.1" fill="#EBD597"/>
<rect x="484" y="400.83" width="444" height="1.1" fill="#EBD597"/>
<rect x="484" y="418.76" width="444" height="1.1" fill="#EBD597"/>
<rect x="484" y="436.69" width="444" height="1.1" fill="#EBD597"/>
<rect x="484" y="454.62" width="444" height="1.1" fill="#EBD597"/>
<rect x="484" y="472.55" width="444" height="1.1" fill="#EBD597"/>
<rect x="484" y="490.48" width="444" height="1.1" fill="#EBD597"/>
<rect x="484" y="508.41" width="444" height="1.1" fill="#EBD597"/>
<rect x="484" y="526.34" width="444" height="1.1" fill="#EBD597"/>
<rect x="484" y="544.27" width="444" height="1.1" fill="#EBD597"/>
<rect x="484" y="562.20" width="444" height="1.1" fill="#EBD597"/>
<text y="55.2" font-size="48.69" fill="#777777"><tspan x="59.05" textLength="117.61" lengthAdjust="spacingAndGlyphs">HOW</tspan> <tspan x="192.98" textLength="63.20" lengthAdjust="spacingAndGlyphs">TO</tspan> <tspan x="274.29" textLength="223.65" lengthAdjust="spacingAndGlyphs">MEASURE</tspan> <tspan x="517.50" textLength="89.12" lengthAdjust="spacingAndGlyphs">THE</tspan> <tspan x="622.70" textLength="128.72" lengthAdjust="spacingAndGlyphs">HEAD</tspan> <tspan x="769.49" textLength="122.95" lengthAdjust="spacingAndGlyphs">SIZE?</tspan></text>
<text x="536.91" y="76.90" font-size="23.00" fill="#EEA81F" textLength="338.17" lengthAdjust="spacingAndGlyphs" stroke="#EEA81F" stroke-width="0.3">If possible, ask someone for help.</text>
<text x="41.00" y="93.10" font-size="14.10" fill="#3d3d3d" textLength="141.71" lengthAdjust="spacingAndGlyphs">TO DETERMINE YOUR</text>
<text x="38.42" y="106.80" font-size="14.10" fill="#3d3d3d" textLength="145.91" lengthAdjust="spacingAndGlyphs">HEAD SIZE, YOU NEED</text>
<text x="31.17" y="120.50" font-size="14.10" fill="#3d3d3d" textLength="161.05" lengthAdjust="spacingAndGlyphs">A MEASURE. IT CAN BE A</text>
<text x="58.44" y="134.20" font-size="14.10" fill="#3d3d3d" textLength="101.55" lengthAdjust="spacingAndGlyphs">DRESSMAKER’S</text>
<text x="38.01" y="147.90" font-size="14.10" fill="#3d3d3d" textLength="148.27" lengthAdjust="spacingAndGlyphs">TAPE OR A SOFT TAPE.</text>
<text x="46.45" y="245.20" font-size="11.48" fill="#3d3d3d" textLength="109.97" lengthAdjust="spacingAndGlyphs">WHEN MEASURING,</text>
<text x="53.08" y="257.05" font-size="11.48" fill="#3d3d3d" textLength="95.48" lengthAdjust="spacingAndGlyphs">MAKE SURETHAT</text>
<text x="42.75" y="268.90" font-size="11.48" fill="#3d3d3d" textLength="114.17" lengthAdjust="spacingAndGlyphs">THE TAPE IS PLACED</text>
<text x="26.18" y="280.75" font-size="11.48" fill="#3d3d3d" textLength="151.23" lengthAdjust="spacingAndGlyphs">ACROSS 3 CRUCIAL AREAS:</text>
<text x="247.68" y="255.70" font-size="11.34" fill="#3d3d3d" textLength="130.29" lengthAdjust="spacingAndGlyphs">ABOVE YOU EYEBROWS.</text>
<text x="260.38" y="267.55" font-size="11.34" fill="#3d3d3d" textLength="105.08" lengthAdjust="spacingAndGlyphs">ABOVE YOUR EARS,</text>
<text x="242.91" y="279.40" font-size="11.34" fill="#3d3d3d" textLength="138.64" lengthAdjust="spacingAndGlyphs">RIGHT WHERE YOU WANT</text>
<text x="269.06" y="291.25" font-size="11.34" fill="#3d3d3d" textLength="87.92" lengthAdjust="spacingAndGlyphs">TO WEAR A HAT.</text>
<text x="441.38" y="255.20" font-size="11.77" fill="#3d3d3d" textLength="170.06" lengthAdjust="spacingAndGlyphs">ACROSS THE OUTERMOST PART</text>
<text x="447.49" y="267.10" font-size="11.77" fill="#3d3d3d" textLength="158.77" lengthAdjust="spacingAndGlyphs">OF THE BACK OF YOUR HEAD,</text>
<text x="456.65" y="279.00" font-size="11.77" fill="#3d3d3d" textLength="140.33" lengthAdjust="spacingAndGlyphs">WHERE THE HAT WILL SIT.</text>
<text x="427.41" y="301.80" font-size="11.34" fill="#B0232B" textLength="194.83" lengthAdjust="spacingAndGlyphs">DON&#x27;T PULL THE TAPE TOO TIGHTLY</text>
<text x="474.15" y="313.50" font-size="11.34" fill="#B0232B" textLength="105.24" lengthAdjust="spacingAndGlyphs">WHEN MEASURING!</text>
<text x="664.96" y="255.00" font-size="11.34" fill="#3d3d3d" textLength="251.99" lengthAdjust="spacingAndGlyphs">THE MEASURE RESULT IS THE CIRCUMFERENCE</text>
<text x="650.78" y="266.80" font-size="11.34" fill="#3d3d3d" textLength="277.21" lengthAdjust="spacingAndGlyphs" style="white-space:pre">OF YOUR HEAD AND THE  HAT SIZE THAT FITS YOU.</text>
<text x="648.02" y="278.60" font-size="11.34" fill="#3d3d3d" textLength="284.33" lengthAdjust="spacingAndGlyphs">IF, FOR EXAMPLE, A HEAD CIRCUMFERENCE IS EQUAL</text>
<text x="663.75" y="290.40" font-size="11.34" fill="#3d3d3d" textLength="250.74" lengthAdjust="spacingAndGlyphs">TO 58 CM, A 58 CM HAT SHOULD BE ORDERED.</text>
<text x="661.02" y="302.20" font-size="11.34" fill="#B0232B" textLength="256.74" lengthAdjust="spacingAndGlyphs">IF YOUR MEASUREMENT FALLS BETWEEN SIZES,</text>
<text x="671.76" y="314.00" font-size="11.34" fill="#B0232B" textLength="235.20" lengthAdjust="spacingAndGlyphs">THE NEXT LARGEST SIZE IS RECOMMENDED.</text>
<text x="263.73" y="234.20" font-size="20.06" fill="#EDB032" textLength="18.27" lengthAdjust="spacingAndGlyphs" stroke="#EDB032" stroke-width="0.25">1.</text>
<text x="479.80" y="234.70" font-size="20.06" fill="#EDB032" textLength="16.62" lengthAdjust="spacingAndGlyphs" stroke="#EDB032" stroke-width="0.25">2.</text>
<text x="723.63" y="235.00" font-size="20.35" fill="#EDB032" textLength="19.06" lengthAdjust="spacingAndGlyphs" stroke="#EDB032" stroke-width="0.25">3.</text>
<text x="242.64" y="374.60" font-size="40.41" fill="#777777" textLength="216.24" lengthAdjust="spacingAndGlyphs">HAT SIZING</text>
<text x="243.92" y="409.70" font-size="40.41" fill="#777777" textLength="127.63" lengthAdjust="spacingAndGlyphs">CHART</text>
<text x="478.94" y="357.50" font-size="15.70" fill="#EDAA1E" font-weight="bold" textLength="63.52" lengthAdjust="spacingAndGlyphs">MODERN</text>
<text x="585.32" y="357.50" font-size="15.70" fill="#EDAA1E" font-weight="bold" textLength="56.28" lengthAdjust="spacingAndGlyphs">METRIC</text>
<text x="686.37" y="357.50" font-size="15.70" fill="#EDAA1E" font-weight="bold" textLength="37.46" lengthAdjust="spacingAndGlyphs">INCH</text>
<text x="794.77" y="357.50" font-size="15.70" fill="#EDAA1E" font-weight="bold" textLength="20.06" lengthAdjust="spacingAndGlyphs">UK</text>
<text x="887.72" y="357.50" font-size="15.70" fill="#EDAA1E" font-weight="bold" textLength="20.24" lengthAdjust="spacingAndGlyphs">US</text>
<text x="511.00" y="380.20" font-size="16.00" fill="#262626" text-anchor="middle">S</text>
<text x="613.70" y="380.20" font-size="16.00" fill="#262626" text-anchor="middle">54</text>
<text x="683.20" y="380.20" font-size="16.00" fill="#262626" text-anchor="start">21 1/8</text>
<text x="787.60" y="380.20" font-size="16.00" fill="#262626" text-anchor="start">6 5/8</text>
<text x="882.60" y="380.20" font-size="16.00" fill="#262626" text-anchor="start">6 3/4</text>
<text x="511.00" y="398.13" font-size="16.00" fill="#262626" text-anchor="middle">S</text>
<text x="613.70" y="398.13" font-size="16.00" fill="#262626" text-anchor="middle">55</text>
<text x="683.20" y="398.13" font-size="16.00" fill="#262626" text-anchor="start">21 1/2</text>
<text x="787.60" y="398.13" font-size="16.00" fill="#262626" text-anchor="start">6 3/4</text>
<text x="882.60" y="398.13" font-size="16.00" fill="#262626" text-anchor="start">6 7/8</text>
<text x="511.00" y="416.06" font-size="16.00" fill="#262626" text-anchor="middle">M</text>
<text x="613.70" y="416.06" font-size="16.00" fill="#262626" text-anchor="middle">56</text>
<text x="683.20" y="416.06" font-size="16.00" fill="#262626" text-anchor="start">21 7/8</text>
<text x="787.60" y="416.06" font-size="16.00" fill="#262626" text-anchor="start">6 7/8</text>
<text x="882.60" y="416.06" font-size="16.00" fill="#262626" text-anchor="start">7</text>
<text x="511.00" y="433.99" font-size="16.00" fill="#262626" text-anchor="middle">M</text>
<text x="613.70" y="433.99" font-size="16.00" fill="#262626" text-anchor="middle">57</text>
<text x="683.20" y="433.99" font-size="16.00" fill="#262626" text-anchor="start">22 1/4</text>
<text x="787.60" y="433.99" font-size="16.00" fill="#262626" text-anchor="start">7</text>
<text x="882.60" y="433.99" font-size="16.00" fill="#262626" text-anchor="start">7 1/8</text>
<text x="511.00" y="451.92" font-size="16.00" fill="#262626" text-anchor="middle">L</text>
<text x="613.70" y="451.92" font-size="16.00" fill="#262626" text-anchor="middle">58</text>
<text x="683.20" y="451.92" font-size="16.00" fill="#262626" text-anchor="start">22 5/8</text>
<text x="787.60" y="451.92" font-size="16.00" fill="#262626" text-anchor="start">7 1/8</text>
<text x="882.60" y="451.92" font-size="16.00" fill="#262626" text-anchor="start">7 1/4</text>
<text x="511.00" y="469.85" font-size="16.00" fill="#262626" text-anchor="middle">L</text>
<text x="613.70" y="469.85" font-size="16.00" fill="#262626" text-anchor="middle">59</text>
<text x="683.20" y="469.85" font-size="16.00" fill="#262626" text-anchor="start">23</text>
<text x="787.60" y="469.85" font-size="16.00" fill="#262626" text-anchor="start">7 1/4</text>
<text x="882.60" y="469.85" font-size="16.00" fill="#262626" text-anchor="start">7 3/8</text>
<text x="511.00" y="487.78" font-size="16.00" fill="#262626" text-anchor="middle">XL</text>
<text x="613.70" y="487.78" font-size="16.00" fill="#262626" text-anchor="middle">60</text>
<text x="683.20" y="487.78" font-size="16.00" fill="#262626" text-anchor="start">23 1/2</text>
<text x="787.60" y="487.78" font-size="16.00" fill="#262626" text-anchor="start">7 3/8</text>
<text x="882.60" y="487.78" font-size="16.00" fill="#262626" text-anchor="start">7 1/2</text>
<text x="511.00" y="505.71" font-size="16.00" fill="#262626" text-anchor="middle">XL</text>
<text x="613.70" y="505.71" font-size="16.00" fill="#262626" text-anchor="middle">61</text>
<text x="683.20" y="505.71" font-size="16.00" fill="#262626" text-anchor="start">23 7/8</text>
<text x="787.60" y="505.71" font-size="16.00" fill="#262626" text-anchor="start">7 1/2</text>
<text x="882.60" y="505.71" font-size="16.00" fill="#262626" text-anchor="start">7 5/8</text>
<text x="511.00" y="523.64" font-size="16.00" fill="#262626" text-anchor="middle">XXL</text>
<text x="613.70" y="523.64" font-size="16.00" fill="#262626" text-anchor="middle">62</text>
<text x="683.20" y="523.64" font-size="16.00" fill="#262626" text-anchor="start">24 1/4</text>
<text x="787.60" y="523.64" font-size="16.00" fill="#262626" text-anchor="start">7 5/8</text>
<text x="882.60" y="523.64" font-size="16.00" fill="#262626" text-anchor="start">7 3/4</text>
<text x="511.00" y="541.57" font-size="16.00" fill="#262626" text-anchor="middle">XXL</text>
<text x="613.70" y="541.57" font-size="16.00" fill="#262626" text-anchor="middle">63</text>
<text x="683.20" y="541.57" font-size="16.00" fill="#262626" text-anchor="start">24 5/8</text>
<text x="787.60" y="541.57" font-size="16.00" fill="#262626" text-anchor="start">7 3/4</text>
<text x="882.60" y="541.57" font-size="16.00" fill="#262626" text-anchor="start">7 7/8</text>
<text x="511.00" y="559.50" font-size="16.00" fill="#262626" text-anchor="middle">XXXL</text>
<text x="613.70" y="559.50" font-size="16.00" fill="#262626" text-anchor="middle">64</text>
<text x="683.20" y="559.50" font-size="16.00" fill="#262626" text-anchor="start">25</text>
<text x="787.60" y="559.50" font-size="16.00" fill="#262626" text-anchor="start">7 7/8</text>
<text x="882.60" y="559.50" font-size="16.00" fill="#262626" text-anchor="start">8</text>
<text x="511.00" y="577.43" font-size="16.00" fill="#262626" text-anchor="middle">XXXL</text>
<text x="613.70" y="577.43" font-size="16.00" fill="#262626" text-anchor="middle">65</text>
<text x="683.20" y="577.43" font-size="16.00" fill="#262626" text-anchor="start">25 1/2</text>
<text x="787.60" y="577.43" font-size="16.00" fill="#262626" text-anchor="start">8</text>
<text x="882.60" y="577.43" font-size="16.00" fill="#262626" text-anchor="start">8 1/8</text>
</svg>
</body></html>
